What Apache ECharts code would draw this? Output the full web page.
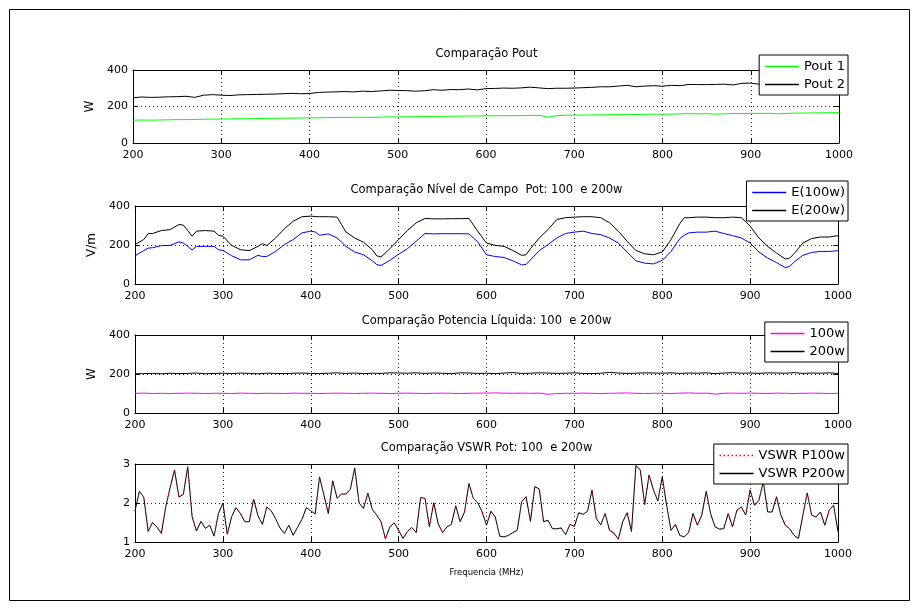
<!DOCTYPE html>
<html><head><meta charset="utf-8">
<script src="https://cdn.jsdelivr.net/npm/echarts@6/dist/echarts.min.js"></script>
<style>html,body{margin:0;padding:0;background:#fff}#c{width:920px;height:612px}</style>
</head><body><div id="c"></div>
<script>
// ---------- DATA ----------
const xTicks = {min: 200, max: 1000, interval: 100};
// Subplot 1 : Comparação Pout (10 MHz sampling, 200..1000)
const freq10 = Array.from({length: 81}, (_, i) => 200 + 10 * i);
const pout1 = [
 125,126,125,126,127,128,128,129,130,131,
 131,132,133,133,134,135,135,136,136,137,
 138,138,139,140,140,141,141,140,142,143,
 143,144,144,145,146,146,147,147,148,148,
 149,149,150,150,150,151,152,141,150,152,
 153,153,154,154,155,156,157,156,157,158,
 158,158,160,161,160,161,158,160,162,161,
 163,162,163,160,162,164,164,165,165,166,
 166];
const pout2 = [
 248,252,250,251,253,254,256,250,262,265,
 262,260,264,265,266,267,268,270,272,270,
 271,277,279,280,282,280,284,282,285,289,
 288,287,284,286,292,289,293,292,296,291,
 298,299,301,300,302,306,302,298,300,300,
 301,303,305,308,308,312,316,308,312,314,
 311,316,314,321,320,320,321,322,318,327,
 328,322,320,322,324,323,325,324,326,325,
 326];
// Subplot 2 : Nível de Campo
const eFreq = [
 200,210,215,220,230,240,250,255,260,265,
 270,280,290,295,300,310,320,330,340,345,
 350,360,370,380,390,400,405,410,420,430,
 435,440,450,460,470,475,480,490,500,510,
 520,530,540,550,560,570,580,590,600,610,
 620,630,640,645,650,660,670,680,690,700,
 710,720,730,740,750,760,770,780,790,800,
 810,820,825,830,840,850,860,870,880,890,
 900,910,920,930,940,945,950,960,970,980,
 990,1000];
const e100 = [
 145,171,184,186,197,198,216,210,193,174,
 193,193,193,176,172,145,124,124,147,141,
 141,167,202,228,262,271,267,250,257,236,
 215,193,164,150,119,100,95,121,153,181,
 219,259,257,258,258,258,257,216,150,141,
 136,119,98,100,124,171,202,236,259,266,
 271,259,253,236,210,164,119,107,103,121,
 167,233,250,262,266,266,271,259,248,236,
 210,164,133,110,84,90,112,147,162,167,
 167,171];
const e200 = [
 202,228,259,259,274,279,305,302,274,245,
 271,274,271,250,245,198,176,171,193,207,
 197,236,283,322,345,348,346,345,345,343,
 305,267,236,214,176,145,138,181,228,274,
 314,336,334,334,335,335,336,271,210,198,
 193,172,147,150,181,236,279,331,340,343,
 345,345,340,314,271,219,172,155,150,164,
 228,310,340,340,343,343,340,340,343,340,
 297,236,193,159,128,133,155,210,233,241,
 241,248];
// Subplot 3 : Potencia Líquida
const net100 = [
 101,102,100,101,100,101,102,101,100,101,
 101,100,102,101,100,101,101,100,102,101,
 101,100,101,102,101,100,101,102,101,100,
 101,102,101,100,101,102,101,100,101,102,
 102,103,102,101,102,101,102,96,100,101,
 101,102,101,100,101,102,103,101,100,101,
 101,100,102,103,101,102,97,101,102,101,
 102,101,100,102,101,100,101,102,101,100,
 101];
const net200 = [
 201,202,203,201,204,202,203,205,201,203,
 204,202,205,203,201,204,203,202,204,205,
 203,202,204,206,203,205,202,204,203,206,
 205,204,206,203,205,204,202,206,205,203,
 204,202,205,207,203,204,206,205,203,204,
 206,203,202,204,208,205,203,204,206,205,
 204,206,203,205,204,206,202,205,207,204,
 205,203,206,205,204,207,203,205,204,206,
 203];
// Subplot 4 : VSWR (5 MHz sampling, 200..1000)
const freq5 = Array.from({length: 161}, (_, i) => 200 + 5 * i);
const vswrP200 = [
 1.80,2.30,2.15,1.27,1.50,1.38,1.22,1.90,2.40,2.85,
 2.15,2.22,2.93,1.65,1.28,1.53,1.35,1.43,1.15,1.73,
 2.00,1.20,1.65,1.88,1.73,1.52,1.52,2.10,1.67,1.45,
 1.90,1.80,1.60,1.36,1.22,1.43,1.17,1.38,1.58,1.88,
 1.80,1.72,2.67,2.20,1.73,2.57,2.12,2.23,2.23,2.35,
 2.90,2.00,1.86,2.25,1.84,1.69,1.52,1.08,1.39,1.49,
 1.30,1.09,1.27,1.37,1.24,2.14,2.12,1.39,2.01,1.47,
 1.24,1.39,1.45,1.93,1.52,1.77,2.50,2.12,2.01,1.77,
 1.43,1.79,1.64,1.15,1.13,1.17,1.24,1.30,2.03,2.16,
 1.53,2.42,2.36,1.52,1.56,1.34,1.34,1.36,1.19,1.45,
 1.40,1.75,1.71,1.79,2.33,1.60,1.44,1.73,1.30,1.23,
 1.07,1.52,1.75,1.27,2.96,2.85,1.96,2.72,2.33,2.05,
 2.67,1.94,1.30,1.45,1.17,1.13,1.24,1.73,1.43,1.69,
 2.30,1.73,1.39,1.33,1.34,1.73,1.39,1.82,1.90,1.69,
 2.33,1.94,2.07,2.55,1.77,1.77,2.16,1.69,1.43,1.34,
 1.17,1.09,1.69,2.26,1.69,1.64,1.77,1.43,1.82,1.94,
 1.27];
const vswrP100 = vswrP200.slice();

const titles = ['Comparação Pout', 'Comparação Nível de Campo  Pot: 100  e 200w',
                'Comparação Potencia Líquida: 100  e 200w', 'Comparação VSWR Pot: 100  e 200w'];
const yNames = ['W', 'V/m', 'W', ''];
const yRanges = [[0, 400, 200], [0, 400, 200], [0, 400, 200], [1, 3, 1]];

// ---------- STYLE / LAYOUT ----------
const FONT = 'DejaVu Sans';
const COL = {
  'Pout 1': '#00ff00', 'Pout 2': '#000000', 'E(100w)': '#0000ff', 'E(200w)': '#000000',
  '100w': '#ff00ff', '200w': '#000000', 'VSWR P100w': '#ff0000', 'VSWR P200w': '#000000'
};
const DASH = {'VSWR P100w': [1, 4]};
const LEG_DASH = {'VSWR P100w': [1.5, 2.5]};
const grids = [
  {left: 133, right: 81, top: 70, height: 73},
  {left: 135, right: 82, top: 206, height: 78},
  {left: 135, right: 82, top: 335, height: 78},
  {left: 135, right: 82, top: 464, height: 78}
];
const titleTops = [48, 184, 315, 442];
const legendTops = [55, 181, 322, 444];
const legendNames = [['Pout 1', 'Pout 2'], ['E(100w)', 'E(200w)'], ['100w', '200w'], ['VSWR P100w', 'VSWR P200w']];

const black = '#000';
const plain = v => String(v);
const dotted = {show: true, lineStyle: {color: '#222', type: [1, 3], width: 1}};
const xAxes = [], yAxes = [];
grids.forEach((g, i) => {
  const bottom = {
    type: 'value', gridIndex: i, min: xTicks.min, max: xTicks.max, interval: xTicks.interval,
    position: 'bottom',
    axisLine: {show: true, onZero: false, lineStyle: {color: black, width: 1}},
    axisTick: {show: true, inside: true, length: 5, lineStyle: {color: black}},
    axisLabel: {color: black, fontFamily: FONT, fontSize: 11, margin: 7, formatter: plain},
    splitLine: dotted
  };
  if (i === 3) {
    bottom.name = 'Frequencia (MHz)';
    bottom.nameLocation = 'middle';
    bottom.nameGap = 26;
    bottom.nameTextStyle = {color: black, fontFamily: FONT, fontSize: 8.5};
  }
  xAxes.push(bottom);
  xAxes.push({
    type: 'value', gridIndex: i, min: xTicks.min, max: xTicks.max, interval: xTicks.interval,
    position: 'top',
    axisLine: {show: true, onZero: false, lineStyle: {color: black, width: 1}},
    axisTick: {show: true, inside: true, length: 5, lineStyle: {color: black}},
    axisLabel: {show: false}, splitLine: {show: false}
  });
  const r = yRanges[i];
  yAxes.push({
    type: 'value', gridIndex: i, min: r[0], max: r[1], interval: r[2], position: 'left',
    name: yNames[i], nameLocation: 'middle', nameGap: 31,
    nameTextStyle: {color: black, fontFamily: FONT, fontSize: 12},
    axisLine: {show: true, onZero: false, lineStyle: {color: black, width: 1}},
    axisTick: {show: true, inside: true, length: 5, lineStyle: {color: black}},
    axisLabel: {color: black, fontFamily: FONT, fontSize: 11, margin: 5, formatter: plain},
    splitLine: dotted
  });
  yAxes.push({
    type: 'value', gridIndex: i, min: r[0], max: r[1], interval: r[2], position: 'right',
    axisLine: {show: true, onZero: false, lineStyle: {color: black, width: 1}},
    axisTick: {show: true, inside: true, length: 5, lineStyle: {color: black}},
    axisLabel: {show: false}, splitLine: {show: false}
  });
});

function pairs(xs, ys) { return ys.map((v, k) => [xs[k], v]); }
function line(name, gi, data, z) {
  return {
    type: 'line', name: name, xAxisIndex: 2 * gi, yAxisIndex: 2 * gi, data: data,
    symbol: 'none', showSymbol: false, animation: false,
    lineStyle: {color: COL[name], width: 1, type: DASH[name] || 'solid'},
    itemStyle: {color: COL[name]}, z: z || 2
  };
}

const series = [
  line('Pout 1', 0, pairs(freq10, pout1)),
  line('Pout 2', 0, pairs(freq10, pout2)),
  line('E(100w)', 1, pairs(eFreq, e100)),
  line('E(200w)', 1, pairs(eFreq, e200)),
  line('100w', 2, pairs(freq10, net100)),
  line('200w', 2, pairs(freq10, net200)),
  line('VSWR P200w', 3, pairs(freq5, vswrP200)),
  line('VSWR P100w', 3, pairs(freq5, vswrP100), 3)
];

const legends = legendNames.map((names, i) => ({
  data: names.map(n => ({
    name: n,
    itemStyle: {color: 'rgba(0,0,0,0)', borderColor: 'rgba(0,0,0,0)', borderWidth: 0},
    lineStyle: {color: COL[n], width: 1.5, type: LEG_DASH[n] || 'solid', opacity: 1}
  })),
  orient: 'vertical', right: 72, top: legendTops[i],
  backgroundColor: '#fff', borderColor: black, borderWidth: 1,
  padding: [5, 3, 4, 5], itemGap: 5, itemWidth: 34, itemHeight: 14,
  selectedMode: false,
  textStyle: {color: black, fontFamily: FONT, fontSize: 13}
}));

const titleObjs = titles.map((t, i) => ({
  text: t, left: 486.5, top: titleTops[i], textAlign: 'center', padding: 0,
  textStyle: {color: black, fontFamily: FONT, fontSize: 11.5, fontWeight: 'normal'}
}));

const chart = echarts.init(document.getElementById('c'), null, {renderer: 'canvas'});
chart.setOption({
  backgroundColor: '#fff',
  animation: false,
  title: titleObjs,
  legend: legends,
  grid: grids,
  xAxis: xAxes,
  yAxis: yAxes,
  series: series,
  graphic: [{
    type: 'rect', shape: {x: 9.5, y: 9.5, width: 900, height: 591},
    style: {fill: 'none', stroke: black, lineWidth: 1}, silent: true, z: -1
  }]
});
</script>
</body></html>
